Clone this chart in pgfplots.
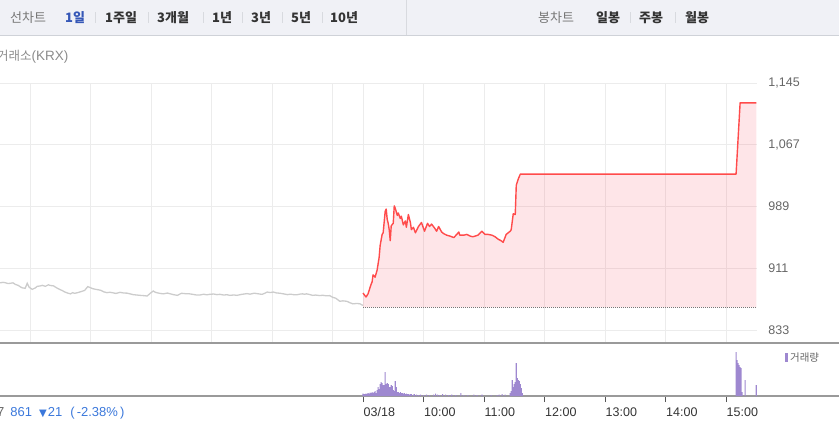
\documentclass[border=0pt]{standalone}
\usepackage{fontspec}
\setmainfont{Liberation Sans}
\newfontfamily\kr{Noto Sans CJK KR}
\newfontfamily\dv{DejaVu Sans}
\usepackage{pgfplots}
\usepackage{pgfplotstable}
\pgfplotsset{compat=1.18}
\definecolor{hdrbg}{HTML}{F0F1F6}
\definecolor{hdrline}{HTML}{CFD2D8}
\definecolor{hdrsep}{HTML}{D8DADF}
\definecolor{hdrgray}{HTML}{777777}
\definecolor{hdrblue}{HTML}{3557B7}
\definecolor{hdrdark}{HTML}{333333}
\definecolor{gridc}{HTML}{ECECEC}
\definecolor{labgray}{HTML}{666666}
\definecolor{redc}{HTML}{FF4B4B}
\definecolor{fillc}{HTML}{FA5064}
\definecolor{graylinec}{HTML}{CCCCCC}
\definecolor{volc}{HTML}{9E88D0}
\definecolor{sepc}{HTML}{9A9A9A}
\definecolor{tickc}{HTML}{555555}
\definecolor{bluetext}{HTML}{3B78DB}
\definecolor{basec}{HTML}{777777}

\pgfplotstableread{
min price
-362 893
-360 892.9
-357 893.5
-355 893.1
-352 892
-350 892.3
-347 892.9
-345 891
-342 889.7
-340 888
-338 886.6
-335 886
-333 892.3
-331 887.2
-328 884.7
-325 886.5
-323 888.5
-320 889
-318 889.7
-315 888.5
-312 890.4
-310 889.5
-307 889.1
-305 887.5
-303 886
-300 884.1
-298 883
-296 881.5
-293 880
-290 879
-288 880.5
-286 879.7
-283 880.5
-281 881.3
-278 882.5
-276 883.4
-273 888.1
-270 886.6
-268 885.5
-265 884.7
-262 884
-260 883.4
-257 881.5
-254 880.5
-251 881
-248 880.3
-245 879.5
-241 880.9
-237 880
-234 879.9
-231 879
-228 878
-224 877.5
-221 877.1
-218 876.8
-214 876.3
-211 879.7
-208 882.6
-206 881
-204 880.3
-201 879.5
-198 879
-194 880
-191 879
-188 878
-184 877.1
-182 878.5
-180 879.7
-176 879.2
-172 879
-168 878.2
-165 877.5
-162 877.5
-158 878.5
-155 877.8
-152 878.4
-148 878.8
-145 878
-142 878.4
-138 877.5
-135 877.9
-132 877.1
-128 877.6
-125 877.1
-121 878.2
-118 878.8
-115 879.3
-112 878.6
-108 879.8
-105 879.3
-102 878.7
-100 878.4
-97 880
-95 881.3
-92 880.6
-89 881.3
-86 880.2
-82 879.7
-78 878.8
-75 878
-72 878.6
-68 877.8
-65 878
-62 878.8
-60 879
-58 878.5
-56 879
-53 878.2
-50 877.1
-47 877.5
-43 876.8
-40 877.2
-36 876.5
-33 876.8
-30 874.6
-27 873.5
-23 869.6
-20 870.2
-16 869.6
-13 867.8
-10 866.4
-6 866.9
-3 866.4
-1 865
0 864.5
}\prevdata

\pgfplotstableread{
min price
0 880
3 875
5 879
6 883
8 891
9 894
10 903
12 900
14 909
16 925
17 940
19 954
20 956
22 983
23 986
24 973
25 968
26 960
27 946
28 965
30 968
31 990
32 987
34 978
35 981
37 974
38 977
40 966
42 971
43 963
45 979
47 969
48 960
50 963
52 956
55 964
58 969
61 958
64 968
66 964
68 967
71 962
73 958
75 964
78 957
80 955
83 953
86 952
90 950
93 954
95 957
96 953
100 953
103 954
106 952
109 951
114 953
118 958
121 954
124 954
128 953
131 951
134 948
137 946
139 944
142 954
146 958
147 960
149 980
151 979
152 1016
154 1024
156 1030
370 1030
374 1120
390 1120
}\todaydata

\pgfplotstableread{
min price
0 862
0 880
3 875
5 879
6 883
8 891
9 894
10 903
12 900
14 909
16 925
17 940
19 954
20 956
22 983
23 986
24 973
25 968
26 960
27 946
28 965
30 968
31 990
32 987
34 978
35 981
37 974
38 977
40 966
42 971
43 963
45 979
47 969
48 960
50 963
52 956
55 964
58 969
61 958
64 968
66 964
68 967
71 962
73 958
75 964
78 957
80 955
83 953
86 952
90 950
93 954
95 957
96 953
100 953
103 954
106 952
109 951
114 953
118 958
121 954
124 954
128 953
131 951
134 948
137 946
139 944
142 954
146 958
147 960
149 980
151 979
152 1016
154 1024
156 1030
370 1030
374 1120
390 1120
390 862
}\filldata

\pgfplotstableread{
min vol
0 2.5
1 2
2 2
3 2.5
4 2
5 3
6 2.5
7 3.5
8 3
9 4
10 3
11 4
12 5
13 3
14 6
15 9
16 7
17 12
18 14
19 13
20 11
21 11
22 24
23 12
24 13
25 12
26 9
27 9
28 11
29 10
30 6
31 5
32 15
33 9
34 4
35 4
36 3
37 4
38 3
39 3
40 2.5
41 3
42 2
43 2.5
44 2
45 2
46 1.5
47 2
48 2
50 1.5
51 2
53 1.5
55 1
57 1.5
60 1
63 1.5
66 1
70 1.5
72 2.5
74 1.5
76 1
79 2
82 1.5
85 1
88 1.5
92 1
97 3
100 1
104 1
110 1.5
113 1
118 1.5
127 1
133 1
135 1.5
138 2
141 1.5
146 3
147 5
148 16
149 9
150 12
151 14
152 33
153 18
154 16
155 15
156 12
157 8
158 3
370 44
371 36
372 33
373 31
374 29
375 28
376 4
379 16
390 11
}\voldata

\begin{document}
\begin{tikzpicture}[x=1pt,y=1pt]
\useasboundingbox (0,0) rectangle (839,429);
% header bar
\fill[hdrbg] (0,394) rectangle (839,429);
\draw[hdrline,line width=1pt] (0,393.5) -- (839,393.5);
\draw[hdrsep,line width=1pt] (406,394) -- (406,429);
\tikzset{hb/.style={anchor=west,inner sep=0pt,font=\kr\bfseries\fontsize{13}{15}\selectfont,text=hdrdark}}
\node[anchor=west,inner sep=0pt,font=\kr\fontsize{13}{15}\selectfont,text=hdrgray] at (10,411.5) {선차트};
\node[hb,text=hdrblue] at (65,411.5) {1일};
\node[hb] at (105,411.5) {1주일};
\node[hb] at (157,411.5) {3개월};
\node[hb] at (212,411.5) {1년};
\node[hb] at (251,411.5) {3년};
\node[hb] at (291,411.5) {5년};
\node[hb] at (330,411.5) {10년};
\node[anchor=west,inner sep=0pt,font=\kr\fontsize{13}{15}\selectfont,text=hdrgray] at (538,411.5) {봉차트};
\node[hb] at (596,411.5) {일봉};
\node[hb] at (639,411.5) {주봉};
\node[hb] at (685,411.5) {월봉};
\foreach \sx in {95,148,203,242,282,322,630,675}{
  \draw[hdrsep,line width=0.8pt] (\sx,406) -- (\sx,417);
}
\node[anchor=west,inner sep=0pt,text=hdrgray!85] at (-3,372)
  {{\kr\fontsize{12.5}{14}\selectfont 거래소}{\fontsize{13.5}{15}\selectfont (KRX)}};
\node[anchor=west,inner sep=0pt,font=\fontsize{13}{15}\selectfont] at (-3,16)
  {\textcolor{labgray}{7}\hspace{6pt}\textcolor{bluetext}{861\hspace{7pt}{\dv\fontsize{10}{12}\selectfont ▼}\hspace{1pt}21\hspace{8pt}(\,-2.38\%\,)}};

% price panel
\begin{axis}[
  at={(0pt,346pt)}, anchor=north west, scale only axis,
  width=757.26pt, height=260pt,
  xmin=-360, xmax=391, ymin=817, ymax=1145,
  axis line style={draw=none},
  xtick={-330,-270,-210,-150,-90,-30,0,60,120,180,240,300,360},
  xticklabels={},
  ytick={833,911,989,1067,1145},
  yticklabels={833,911,989,{1,067},{1,145}},
  yticklabel pos=right,
  major tick length=0pt,
  grid=major,
  grid style={color=gridc,line width=0.9pt},
  yticklabel style={anchor=west,inner sep=0pt,xshift=11pt,font=\fontsize{12.5}{14}\selectfont,text=labgray},
]
\addplot[fill=fillc, fill opacity=0.15, draw=none] table[x=min,y=price]{\filldata} -- cycle;
\addplot[draw=basec, line width=0.8pt, dash pattern=on 1pt off 1pt] coordinates {(0,862) (390,862)};
\addplot[graylinec, line width=1.3pt] table[x=min,y=price]{\prevdata};
\addplot[redc, line width=1.4pt, line join=round] table[x=min,y=price]{\todaydata};
\end{axis}

% volume panel
\begin{axis}[
  at={(0pt,86pt)}, anchor=north west, scale only axis,
  width=839pt, height=53pt,
  xmin=-360, xmax=472.06, ymin=0, ymax=53,
  axis line style={draw=none},
  xtick={0,60,120,180,240,300,360},
  xticklabels={03/18,10:00,11:00,12:00,13:00,14:00,15:00},
  xtick pos=lower,
  tick align=outside,
  major tick length=6pt,
  tick style={color=tickc,line width=0.9pt},
  ytick=\empty,
  xticklabel style={anchor=north west,inner sep=0pt,xshift=0.5pt,yshift=-5.5pt,font=\fontsize{12.5}{14}\selectfont,text=hdrdark},
  legend style={draw=none,fill=none,at={(rel axis cs:0.935,0.72)},anchor=west,inner sep=0pt,
    font=\kr\fontsize{10.5}{12}\selectfont,text=labgray},
  legend image code/.code={\fill[volc] (0pt,-4.5pt) rectangle (3.5pt,4.5pt);},
]
\draw[sepc,line width=1.2pt] (rel axis cs:0,1) -- (rel axis cs:1,1);
\draw[sepc,line width=1.2pt] (rel axis cs:0,0) -- (rel axis cs:1,0);
\addplot[ybar, bar width=1.1, fill=volc, draw=none] table[x=min,y=vol]{\voldata};
\addlegendentry{거래량}
\end{axis}
\end{tikzpicture}
\end{document}
